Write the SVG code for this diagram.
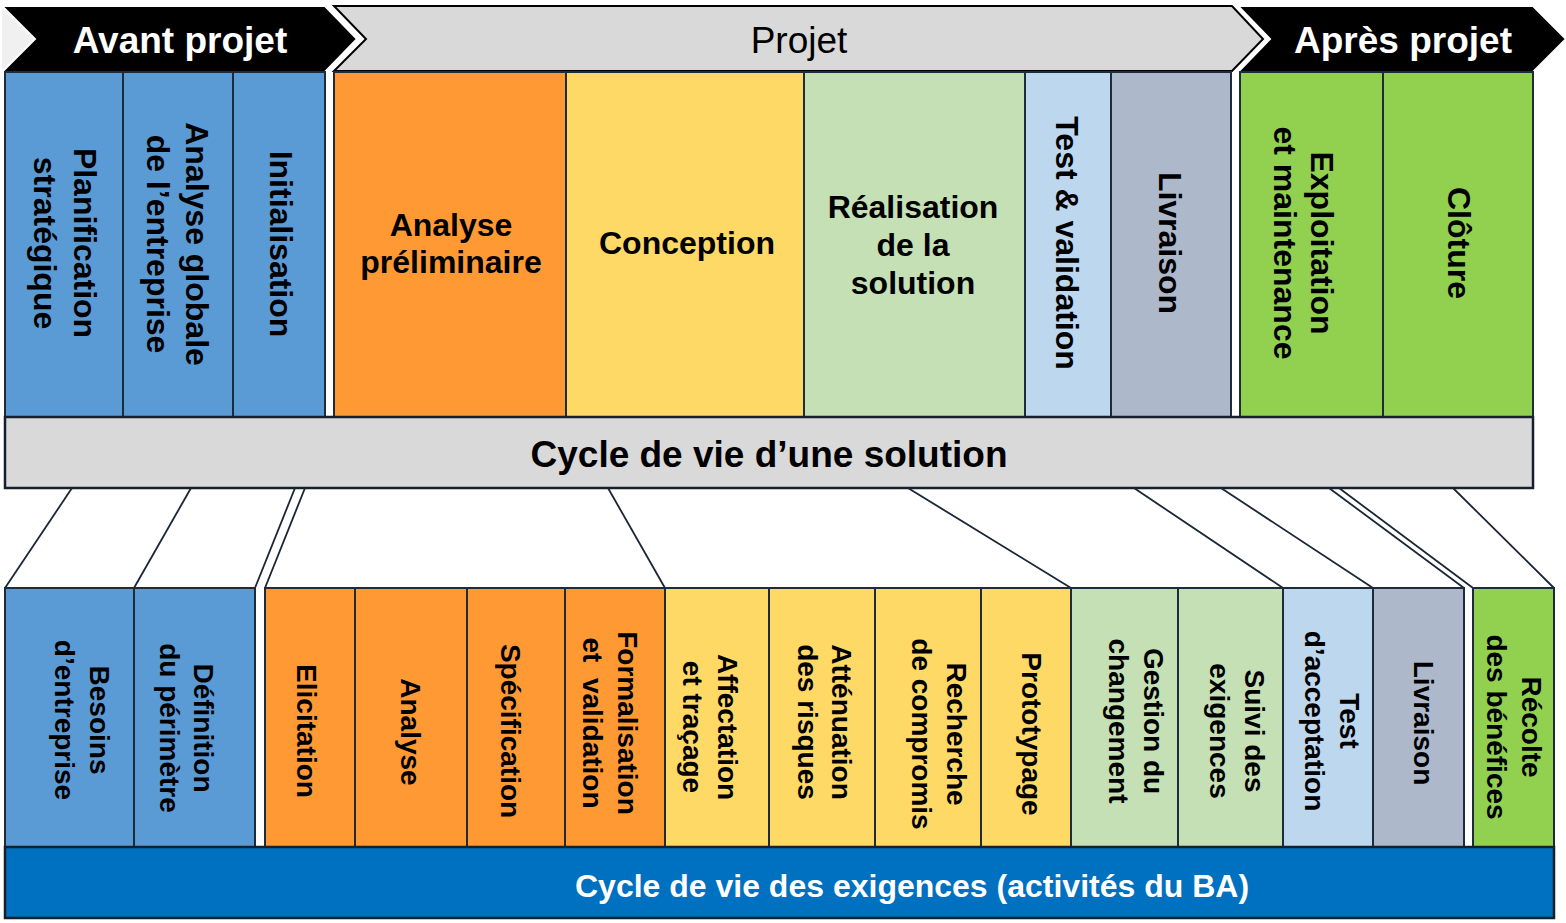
<svg xmlns="http://www.w3.org/2000/svg" width="1566" height="923" viewBox="0 0 1566 923">
<style>
.box{stroke:#1e2b3a;stroke-width:2}
.blue{fill:#5b9bd5}.orange{fill:#ff9933}.yellow{fill:#ffd966}.lgreen{fill:#c5e0b4}.lblue{fill:#bdd7ee}.gblue{fill:#adb9ca}.green{fill:#92d050}
.t32{font-family:"Liberation Sans",Arial,sans-serif;font-weight:bold;font-size:32px;text-anchor:middle;fill:#000}
.t28{font-family:"Liberation Sans",Arial,sans-serif;font-weight:bold;font-size:28px;text-anchor:middle;fill:#000}
.hdr{font-family:"Liberation Sans",Arial,sans-serif;font-size:37px;text-anchor:middle}
.conn{stroke:#1a2535;stroke-width:1.8;fill:none}
</style>
<rect width="1566" height="923" fill="#ffffff"/>
<g id="hdr-projet">
<path d="M334,6 L1232,6 L1263,39 L1232,71 L334,71 L366,39 Z" fill="#d9d9d9" stroke="#000" stroke-width="2"/>
<text class="hdr" x="799" y="53" fill="#000">Projet</text>
</g>
<g id="hdr-avant">
<path d="M2,6 L35,39 L2,72 Z" fill="#f0f0f0"/>
<path d="M2,6 L325,6 L357,39 L325,72 L2,72 L35,39 Z" fill="#000" stroke="#fff" stroke-width="2"/>
<text class="hdr" x="180" y="53" fill="#fff" font-weight="bold">Avant projet</text>
</g>
<g id="hdr-apres">
<path d="M1238,6 L1533,6 L1566,39 L1533,72 L1238,72 L1270,39 Z" fill="#000" stroke="#fff" stroke-width="2"/>
<text class="hdr" x="1403" y="53" fill="#fff" font-weight="bold">Après projet</text>
</g>
<g id="s-planif"><rect class="box blue" x="5" y="72" width="118" height="345"/><text class="t32" transform="translate(85,243) rotate(90)"><tspan x="0" y="11">Planification</tspan><tspan x="0" y="51">stratégique</tspan></text></g>
<g id="s-analyse-globale"><rect class="box blue" x="123" y="72" width="110" height="345"/><text class="t32" transform="translate(197,244) rotate(90)"><tspan x="0" y="11">Analyse globale</tspan><tspan x="0" y="50">de l’entreprise</tspan></text></g>
<g id="s-init"><rect class="box blue" x="233" y="72" width="92" height="345"/><text class="t32" transform="translate(281,244) rotate(90)"><tspan x="0" y="11">Initialisation</tspan></text></g>
<g id="s-analyse-prelim"><rect class="box orange" x="334" y="72" width="232" height="345"/><text class="t32"><tspan x="451" y="236">Analyse</tspan><tspan x="451" y="273">préliminaire</tspan></text></g>
<g id="s-conception"><rect class="box yellow" x="566" y="72" width="238" height="345"/><text class="t32" x="687" y="254">Conception</text></g>
<g id="s-realisation"><rect class="box lgreen" x="804" y="72" width="221" height="345"/><text class="t32"><tspan x="913" y="218">Réalisation</tspan><tspan x="913" y="256">de la</tspan><tspan x="913" y="294">solution</tspan></text></g>
<g id="s-test"><rect class="box lblue" x="1025" y="72" width="86" height="345"/><text class="t32" transform="translate(1067,243) rotate(90)"><tspan x="0" y="11">Test &amp; validation</tspan></text></g>
<g id="s-livraison"><rect class="box gblue" x="1111" y="72" width="120" height="345"/><text class="t32" transform="translate(1170,243) rotate(90)"><tspan x="0" y="11">Livraison</tspan></text></g>
<g id="s-exploitation"><rect class="box green" x="1240" y="72" width="143" height="345"/><text class="t32" transform="translate(1322,243) rotate(90)"><tspan x="0" y="11">Exploitation</tspan><tspan x="0" y="48">et maintenance</tspan></text></g>
<g id="s-cloture"><rect class="box green" x="1383" y="72" width="150" height="345"/><text class="t32" transform="translate(1459,243) rotate(90)"><tspan x="0" y="11">Clôture</tspan></text></g>
<g id="band-solution"><rect x="5" y="417" width="1528" height="71" fill="#d9d9d9" stroke="#16202c" stroke-width="2.5"/><text x="769" y="467" font-family="Liberation Sans, Arial, sans-serif" font-weight="bold" font-size="37" text-anchor="middle" fill="#000">Cycle de vie d’une solution</text></g>
<g id="connectors">
<line class="conn" x1="72" y1="488" x2="5" y2="588"/>
<line class="conn" x1="191" y1="488" x2="134" y2="588"/>
<line class="conn" x1="295" y1="488" x2="255" y2="588"/>
<line class="conn" x1="305" y1="488" x2="265" y2="588"/>
<line class="conn" x1="608" y1="488" x2="665" y2="588"/>
<line class="conn" x1="908" y1="488" x2="1071" y2="588"/>
<line class="conn" x1="1134" y1="488" x2="1283" y2="588"/>
<line class="conn" x1="1221" y1="488" x2="1373" y2="588"/>
<line class="conn" x1="1329" y1="488" x2="1464" y2="588"/>
<line class="conn" x1="1339" y1="488" x2="1473" y2="588"/>
<line class="conn" x1="1453" y1="488" x2="1554" y2="588"/>
</g>
<g id="r-besoins"><rect class="box blue" x="5" y="588" width="129" height="259"/><text class="t28" transform="translate(100,720) rotate(90)"><tspan x="0" y="10">Besoins</tspan><tspan x="0" y="45">d’entreprise</tspan></text></g>
<g id="r-definition"><rect class="box blue" x="134" y="588" width="121" height="259"/><text class="t28" transform="translate(204,728) rotate(90)"><tspan x="0" y="10">Définition</tspan><tspan x="0" y="44">du périmètre</tspan></text></g>
<g id="r-elicitation"><rect class="box orange" x="265" y="588" width="90" height="259"/><text class="t28" transform="translate(307,731) rotate(90)"><tspan x="0" y="10">Elicitation</tspan></text></g>
<g id="r-analyse"><rect class="box orange" x="355" y="588" width="112" height="259"/><text class="t28" transform="translate(411,732) rotate(90)"><tspan x="0" y="10">Analyse</tspan></text></g>
<g id="r-specification"><rect class="box orange" x="467" y="588" width="98" height="259"/><text class="t28" transform="translate(511,731) rotate(90)"><tspan x="0" y="10">Spécification</tspan></text></g>
<g id="r-formalisation"><rect class="box orange" x="565" y="588" width="100" height="259"/><text class="t28" transform="translate(628,723) rotate(90)"><tspan x="0" y="10">Formalisation</tspan><tspan x="0" y="45">et&#160; validation</tspan></text></g>
<g id="r-affectation"><rect class="box yellow" x="665" y="588" width="104" height="259"/><text class="t28" transform="translate(728,727) rotate(90)"><tspan x="0" y="10">Affectation</tspan><tspan x="0" y="45">et traçage</tspan></text></g>
<g id="r-attenuation"><rect class="box yellow" x="769" y="588" width="106" height="259"/><text class="t28" transform="translate(842,722) rotate(90)"><tspan x="0" y="10">Atténuation</tspan><tspan x="0" y="44">des risques</tspan></text></g>
<g id="r-recherche"><rect class="box yellow" x="875" y="588" width="106" height="259"/><text class="t28" transform="translate(957,734) rotate(90)"><tspan x="0" y="10">Recherche</tspan><tspan x="0" y="45">de compromis</tspan></text></g>
<g id="r-prototypage"><rect class="box yellow" x="981" y="588" width="90" height="259"/><text class="t28" transform="translate(1032,734) rotate(90)"><tspan x="0" y="10">Prototypage</tspan></text></g>
<g id="r-gestion"><rect class="box lgreen" x="1071" y="588" width="107" height="259"/><text class="t28" transform="translate(1154,721) rotate(90)"><tspan x="0" y="10">Gestion du</tspan><tspan x="0" y="45">changement</tspan></text></g>
<g id="r-suivi"><rect class="box lgreen" x="1178" y="588" width="105" height="259"/><text class="t28" transform="translate(1255,731) rotate(90)"><tspan x="0" y="10">Suivi des</tspan><tspan x="0" y="45">exigences</tspan></text></g>
<g id="r-test"><rect class="box lblue" x="1283" y="588" width="90" height="259"/><text class="t28" transform="translate(1350,721) rotate(90)"><tspan x="0" y="10">Test</tspan><tspan x="0" y="45">d’acceptation</tspan></text></g>
<g id="r-livraison"><rect class="box gblue" x="1373" y="588" width="91" height="259"/><text class="t28" transform="translate(1424,723) rotate(90)"><tspan x="0" y="10">Livraison</tspan></text></g>
<g id="r-recolte"><rect class="box green" x="1473" y="588" width="81" height="259"/><text class="t28" transform="translate(1532,727) rotate(90)"><tspan x="0" y="10">Récolte</tspan><tspan x="0" y="45">des bénéfices</tspan></text></g>
<g id="band-exigences"><rect x="5" y="847" width="1549" height="71" fill="#0070c0" stroke="#16202c" stroke-width="2.5"/><text x="912" y="897" font-family="Liberation Sans, Arial, sans-serif" font-weight="bold" font-size="32" text-anchor="middle" fill="#fff">Cycle de vie des exigences (activités du BA)</text></g>
</svg>
